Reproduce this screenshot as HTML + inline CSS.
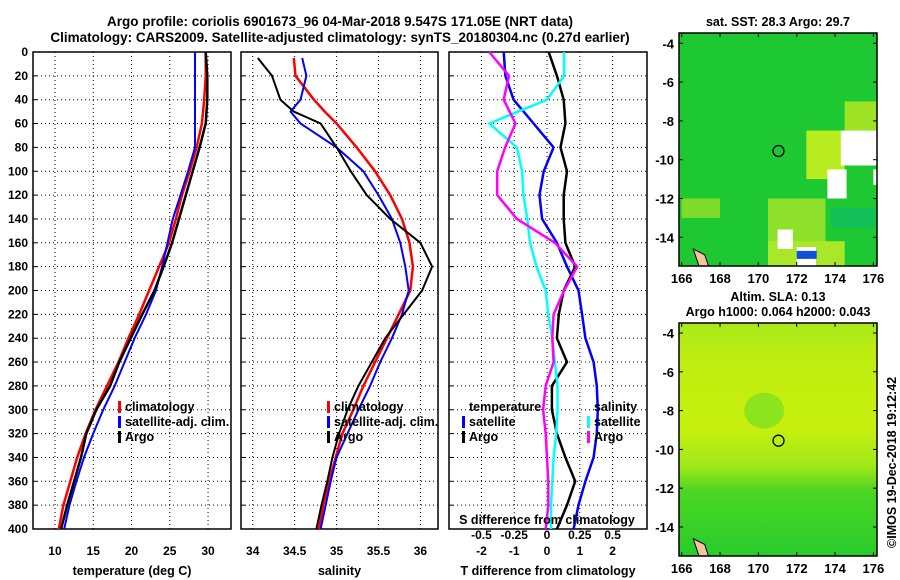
<!DOCTYPE html>
<html><head><meta charset="utf-8">
<style>
html,body{margin:0;padding:0;background:#fff;}
svg{display:block;font-family:"Liberation Sans",sans-serif;font-weight:bold;}
</style></head>
<body>
<svg id="chart" width="900" height="580" viewBox="0 0 900 580">
<text x="340" y="26" font-size="13.5" text-anchor="middle">Argo profile: coriolis 6901673_96 04-Mar-2018 9.547S 171.05E (NRT data)</text>
<text x="340" y="42" font-size="13.5" text-anchor="middle">Climatology: CARS2009. Satellite-adjusted climatology: synTS_20180304.nc (0.27d earlier)</text>
<g id="plots"></g>
<g id="maps"></g>
</svg>
<script>
const depths=[0,20,40,60,80,100,120,140,160,180,200,220,240,260,280,300,320,340,360,380,400];
const tempClim=[29.7,29.7,29.5,29.2,28.5,27.6,26.6,25.8,24.9,23.6,22.3,21.0,19.6,18.3,16.8,15.3,14.0,12.9,12.0,11.1,10.5];
const tempSat=[28.3,28.3,28.3,28.3,28.3,27.4,26.4,25.4,24.7,24.0,23.2,21.9,20.4,19.1,17.8,16.3,15.0,13.8,12.8,11.9,11.2];
const tempArgo=[29.7,29.9,29.9,29.7,28.9,28.0,27.1,26.2,25.3,24.2,23.0,21.4,19.9,18.4,17.2,15.4,14.1,13.4,12.5,11.6,10.8];
const salDepths=[5,20,40,50,60,80,100,120,140,160,180,200,220,240,260,280,300,320,340,360,380,400];
const salClim=[34.49,34.51,34.73,34.86,35.0,35.24,35.46,35.64,35.78,35.87,35.91,35.88,35.74,35.6,35.46,35.32,35.2,35.07,34.99,34.91,34.84,34.79];
const salSat=[34.59,34.64,34.57,34.45,34.57,35.0,35.32,35.5,35.66,35.76,35.82,35.86,35.78,35.66,35.52,35.4,35.26,35.13,35.0,34.93,34.87,34.81];
const salArgo=[34.06,34.23,34.33,34.49,34.81,35.0,35.17,35.36,35.64,36.0,36.14,36.02,35.8,35.58,35.42,35.26,35.13,35.03,34.95,34.89,34.82,34.76];
const dTempSat=[-1.32,-1.27,-1.02,-0.41,0.2,-0.1,-0.23,-0.15,0.3,0.61,0.96,1.07,1.17,1.42,1.52,1.55,1.52,1.42,1.17,0.96,0.81];
const dTempArgo=[0.05,0.3,0.51,0.56,0.41,0.61,0.51,0.51,0.56,0.86,0.51,0.36,0.3,0.61,0.15,0.15,0.3,0.56,0.86,0.61,0.3];
const dSalSat=[0.13,0.13,0,-0.44,-0.23,-0.19,-0.18,-0.15,-0.13,-0.08,-0.01,0.01,0.04,0.06,0.08,0.08,0.07,0.05,0.04,0.03,0.03];
const dSalArgo=[-0.44,-0.29,-0.33,-0.24,-0.32,-0.38,-0.38,-0.23,0.06,0.23,0.13,0.05,0.04,0.05,-0.01,-0.03,-0.01,0,0.01,0.01,-0.01];
const yTicks=[0,20,40,60,80,100,120,140,160,180,200,220,240,260,280,300,320,340,360,380,400];
const tTicks=[10,15,20,25,30];
const sTicks=[34,34.5,35,35.5,36];
const dTicks=[-2,-1,0,1,2];
const dsTicks=[-0.5,-0.25,0,0.25,0.5];
const dsLabels=["-0.5","-0.25","0","0.25","0.5"];

const NS="http://www.w3.org/2000/svg";
function mk(tag,attrs,parent){const e=document.createElementNS(NS,tag);for(const k in attrs)e.setAttribute(k,attrs[k]);parent.appendChild(e);return e;}
const plots=document.getElementById('plots');
const yTop=52,yBot=529;
const yScale=d=>yTop+(d/400)*(yBot-yTop);

function panel(name,x0,x1,vmin,vmax,ticks,labels,xlabel,showY){
  const g=mk('g',{},plots);
  
  
  const xs=v=>x0+(v-vmin)/(vmax-vmin)*(x1-x0);
  ticks.forEach((t,i)=>{
    const gl=mk('line',{x1:xs(t),x2:xs(t),y1:yTop,y2:yBot,stroke:'#000','stroke-width':1,'stroke-dasharray':'1,3'},g);
    
    
    if(labels){const tl=mk('text',{x:xs(t),y:yBot+26,'font-size':12,'text-anchor':'middle'},g);tl.textContent=labels[i];
    
    }
  });
  yTicks.forEach(d=>{
    const gl=mk('line',{x1:x0,x2:x1,y1:yScale(d),y2:yScale(d),stroke:'#000','stroke-width':1,'stroke-dasharray':'1,3'},g);
    
    
    mk('line',{x1:x0,x2:x0+4,y1:yScale(d),y2:yScale(d),stroke:'#000'},g);
    if(showY){const tl=mk('text',{x:x0-5,y:yScale(d)+4,'font-size':12,'text-anchor':'end'},g);tl.textContent=d;
    
    }
  });
  const fr=mk('rect',{x:x0,y:yTop,width:x1-x0,height:yBot-yTop,fill:'none',stroke:'#000','stroke-width':1.5},g);
  
  
  const xl=mk('text',{x:(x0+x1)/2,y:575,'font-size':12.5,'text-anchor':'middle'},g);
  xl.textContent=xlabel;
  
  
  return {g,xs};
}
function line(p,vals,ds,color,w,name,scale){
  const pts=vals.map((v,i)=>p.xs(v*(scale||1)).toFixed(1)+','+yScale(ds[i]).toFixed(1)).join(' ');
  const l=mk('polyline',{points:pts,fill:'none',stroke:color,'stroke-width':w,'stroke-linejoin':'round'},p.g);
  
  
}
function legend(p,x,y,items){
  items.forEach((it,i)=>{
    const yy=y+i*15;
    if(it[1]) mk('rect',{x:x,y:yy-10,width:3,height:12,fill:it[1]},p.g);
    const t=mk('text',{x:x+7,y:yy,'font-size':12.5},p.g);t.textContent=it[0];
    
    
  });
}
// Panel 1
const p1=panel('temperature-panel',33,231,7.13,33.0,tTicks,tTicks.map(String),'temperature (deg C)',true);
line(p1,tempClim,depths,'#f00',2.5,'climatology-temp-line');
line(p1,tempSat,depths,'#00f',2,'satellite-temp-line');
line(p1,tempArgo,depths,'#000',2.5,'argo-temp-line');
legend(p1,118,411,[['climatology','#f00'],['satellite-adj. clim.','#00f'],['Argo','#000']]);
// Panel 2
const p2=panel('salinity-panel',241,438,33.86,36.21,sTicks,["34","34.5","35","35.5","36"],'salinity',false);
line(p2,salClim,salDepths,'#f00',2.5,'climatology-sal-line');
line(p2,salSat,salDepths,'#00f',2,'satellite-sal-line');
line(p2,salArgo,salDepths,'#000',2,'argo-sal-line');
legend(p2,327,411,[['climatology','#f00'],['satellite-adj. clim.','#00f'],['Argo','#000']]);
// Panel 3
const p3=panel('difference-panel',449,647,-2.99,3.05,dTicks,dTicks.map(String),'T difference from climatology',false);
line(p3,dTempSat,depths,'#00f',2.5,'temp-diff-satellite-line');
line(p3,dTempArgo,depths,'#000',2.5,'temp-diff-argo-line');
line(p3,dSalSat,depths,'#0ff',2.5,'sal-diff-satellite-line',4);
line(p3,dSalArgo,depths,'#f0f',2.5,'sal-diff-argo-line',4);
legend(p3,462,411,[['temperature',null],['satellite','#00f'],['Argo','#000']]);
legend(p3,587,411,[['salinity',null],['satellite','#0ff'],['Argo','#f0f']]);
{const t=mk('text',{x:547,y:524,'font-size':12.5,'text-anchor':'middle'},p3.g);t.textContent='S difference from climatology';


dsTicks.forEach((s,i)=>{const tl=mk('text',{x:p3.xs(s*4),y:539,'font-size':12,'text-anchor':'middle'},p3.g);tl.textContent=dsLabels[i];

});}

// Maps
const maps=document.getElementById('maps');
function map(name,top,bottom,lat4y,fillFn,title){
  const g=mk('g',{},maps);
  
  
  const x0=679,x1=877;
  const lx=lon=>681.7+(lon-166)*19.17;
  const ly=lat=>lat4y+(-4-lat)*19.4;
  fillFn(g,x0,top,x1-x0,bottom-top,lx,ly);
  const c=mk('circle',{cx:lx(171.05),cy:ly(-9.55),r:5.5,fill:'none',stroke:'#000','stroke-width':1.3},g);
  
  
  mk('path',{d:`M${lx(166.6)},${ly(-14.6)} L${lx(166.9)},${bottom} L${lx(167.4)},${bottom} L${lx(167.2)},${ly(-14.9)} Z`,fill:'#f4c49c',stroke:'#000','stroke-width':1},g);
  mk('rect',{x:x0,y:top,width:x1-x0,height:bottom-top,fill:'none',stroke:'#000','stroke-width':1.5},g);
  [166,168,170,172,174,176].forEach(l=>{
    mk('line',{x1:lx(l),x2:lx(l),y1:bottom,y2:bottom-4,stroke:'#000'},g);
    mk('line',{x1:lx(l),x2:lx(l),y1:top,y2:top+4,stroke:'#000'},g);
    const t=mk('text',{x:lx(l),y:bottom+17,'font-size':13,'text-anchor':'middle'},g);t.textContent=l;
    
    
  });
  [-4,-6,-8,-10,-12,-14].forEach(l=>{
    mk('line',{x1:x0,x2:x0+4,y1:ly(l),y2:ly(l),stroke:'#000'},g);
    mk('line',{x1:x1,x2:x1-4,y1:ly(l),y2:ly(l),stroke:'#000'},g);
    const t=mk('text',{x:x0-5,y:ly(l)+5,'font-size':13,'text-anchor':'end'},g);t.textContent=l;
    
    
  });
  title.forEach((s,i)=>{const t=mk('text',{x:778,y:(top-20+i*15)-(title.length-1)*15+13,'font-size':12.5,'text-anchor':'middle'},g);t.textContent=s;
  
  });
}
map('sst-map',33,266,43.3,(g,x,y,w,h,lx,ly)=>{
  mk('rect',{x,y,width:w,height:h,fill:'#1ec832'},g);
  const patches=[[172.5,-8.5,2,2.5,'#b8ec20'],[173,-11.5,3,-0.3,'#1ec832'],[170.5,-12,3,3,'#8ee02a'],[170.5,-14.2,4,1.3,'#a8e828'],[174.5,-7,1.7,1.5,'#9ee424'],[166,-12,2,1,'#7edc28'],[173.8,-12.5,2.4,1,'#12c05a']];
  patches.forEach(p=>mk('rect',{x:lx(p[0]),y:ly(p[1]),width:p[2]*19.17,height:Math.abs(p[3])*19.4,fill:p[4]},g));
  const whites=[[174.3,-8.5,2.2,1.8],[173.6,-10.5,1,1.5],[171,-13.6,0.8,1],[172,-14.5,1,1],[176,-10.5,0.3,0.8]];
  whites.forEach(p=>mk('rect',{x:lx(p[0]),y:ly(p[1]),width:p[2]*19.17,height:p[3]*19.4,fill:'#fff'},g));
  mk('rect',{x:lx(172),y:ly(-14.7),width:20,height:8,fill:'#1050d8'},g);
},['sat. SST: 28.3 Argo: 29.7']);
map('sla-map',323,556,333,(g,x,y,w,h,lx,ly)=>{
  const d=mk('defs',{},g);
  const lg=mk('linearGradient',{id:'slag',x1:0,y1:0,x2:0,y2:1},d);
  [[0,'#a8e81a'],[0.15,'#bfee10'],[0.45,'#c8f00e'],[0.62,'#9ee81a'],[0.72,'#4cd622'],[1,'#28cc2c']].forEach(s=>mk('stop',{offset:s[0],'stop-color':s[1]},lg));
  mk('rect',{x,y,width:w,height:h,fill:'url(#slag)'},g);
  mk('ellipse',{cx:lx(170.3),cy:ly(-8),rx:20,ry:18,fill:'#8ee41c'},g);
},['Altim. SLA: 0.13','Argo h1000: 0.064 h2000: 0.043']);
</script>
<svg style="position:absolute;left:0;top:0" width="900" height="580"><text x="896" y="548" font-size="12.5" font-family="Liberation Sans" transform="rotate(-90 896 548)">©IMOS 19-Dec-2018 19:12:42</text></svg>
</body></html>
